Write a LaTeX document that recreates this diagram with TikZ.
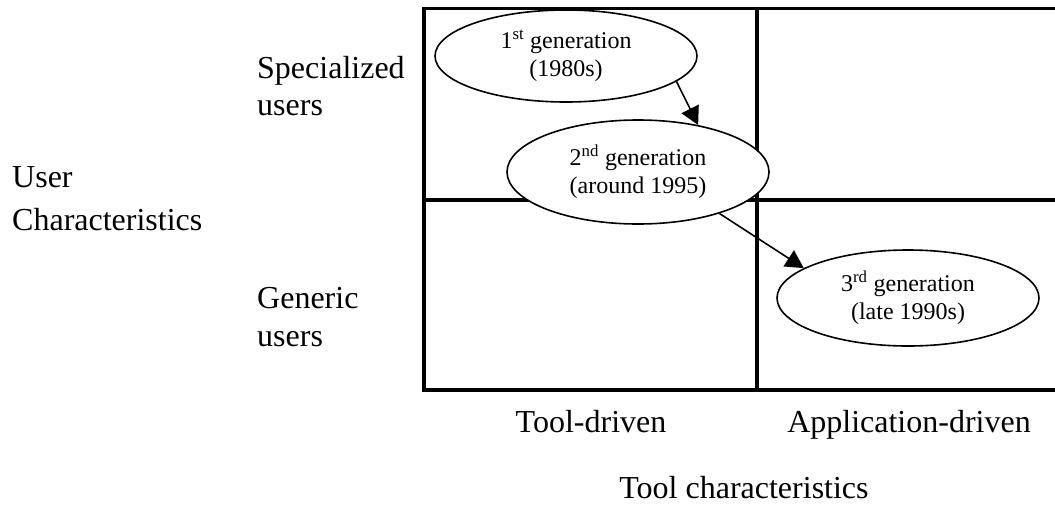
\documentclass[tikz,border=0pt]{standalone}
\usepackage{fontspec}
\setmainfont{Liberation Serif}
\usetikzlibrary{arrows.meta,shapes.geometric}
\begin{document}
\begin{tikzpicture}[x=1pt,y=-1pt,
  grid/.style={line width=3.2pt},
  gen/.style={ellipse, draw, fill=white, line width=1.6pt, minimum width=262pt,
    inner sep=0pt, align=center, font=\fontsize{24}{28}\selectfont},
  axislabel/.style={inner sep=0pt, align=left, font=\fontsize{32}{37}\selectfont},
  flow/.style={line width=1.6pt, -{Triangle[length=18pt,width=19pt]}}]
\useasboundingbox (0,0) rectangle (1055,504);

% quadrant grid
\draw[grid] (424,8.5) rectangle (1060,390);
\draw[grid] (757,8.5) -- (757,390);
\draw[grid] (424,200) -- (1060,200);

% row labels
\node[axislabel, anchor=west] (spec) at (257,86) {Specialized\\users};
\node[axislabel, anchor=west, font=\fontsize{32}{38}\selectfont] (gener) at (257,317) {Generic\\users};
\node[axislabel, anchor=west, font=\fontsize{32}{43}\selectfont] (userc) at (12,199) {User\\Characteristics};

% column labels
\node[axislabel, anchor=base] (tooldr) at (591,432) {Tool-driven};
\node[axislabel, anchor=base] (appdr) at (909,432) {Application-driven};
\node[axislabel, anchor=base] (toolc) at (744,498) {Tool characteristics};

% generations
\node[gen, minimum height=92pt] (g1) at (566,56) {1\textsuperscript{st} generation\\(1980s)};
\node[gen, minimum height=104pt] (g2) at (638,172) {2\textsuperscript{nd} generation\\(around 1995)};
\node[gen, minimum height=96pt] (g3) at (908,298) {3\textsuperscript{rd} generation\\(late 1990s)};

\draw[flow] (g1.-13) -- (g2.38);
\draw[flow] (g2.-27) -- (g3.164);
\end{tikzpicture}
\end{document}
